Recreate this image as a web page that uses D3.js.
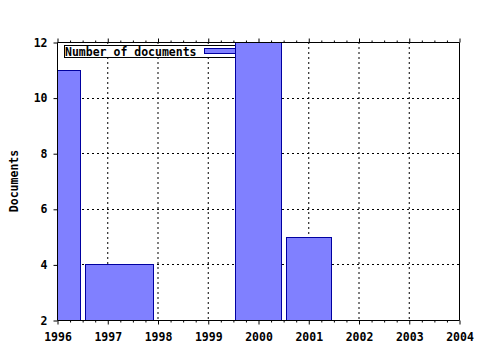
<!DOCTYPE html>
<html>
<head>
<meta charset="utf-8">
<script src="https://cdn.jsdelivr.net/npm/d3@7"></script>
<style>
  body { margin: 0; background: #fff; }
  text { font-family: "DejaVu Sans Mono", "Liberation Mono", monospace; font-weight: bold; }
</style>
</head>
<body>
<svg id="chart" width="480" height="350"></svg>
<script>
// data (bar edges in years)
const barStart = [1995.54, 1996.56, 1999.54, 2000.55];
const barEnd   = [1996.46, 1997.91, 2000.46, 2001.45];
const counts   = [11, 4, 12, 5];
const xTicks = [1996, 1997, 1998, 1999, 2000, 2001, 2002, 2003, 2004];
const yTicks = [2, 4, 6, 8, 10, 12];

const data = counts.map((c, i) => ({start: barStart[i], end: barEnd[i], value: c}));

const svg = d3.select("#chart");
const margin = {top: 42, right: 21, bottom: 30, left: 57};
const width = 480 - margin.left - margin.right;
const height = 350 - margin.top - margin.bottom;

const g = svg.append("g")
    .attr("transform", "translate(" + margin.left + "," + margin.top + ")");

const x = d3.scaleLinear().domain([1996, 2004]).range([0, width]);
const y = d3.scaleLinear().domain([2, 12]).range([height, 0]);

// dotted grid
g.append("g").selectAll("line")
    .data(xTicks.slice(1, -1))
    .enter().append("line")
    .attr("x1", d => x(d) + 0.5).attr("x2", d => x(d) + 0.5)
    .attr("y1", 0).attr("y2", height)
    .attr("stroke", "#000").attr("stroke-dasharray", "2,3");
g.append("g").selectAll("line")
    .data(yTicks.slice(1, -1))
    .enter().append("line")
    .attr("x1", 0).attr("x2", width)
    .attr("y1", d => Math.round(y(d)) + 0.5).attr("y2", d => Math.round(y(d)) + 0.5)
    .attr("stroke", "#000").attr("stroke-dasharray", "2,3");

// legend (sits under the bars)
const legend = g.append("g").attr("transform", "translate(7,3)");
legend.append("rect")
    .attr("x", 0.5).attr("y", 0.5).attr("width", 190).attr("height", 12)
    .attr("fill", "#fff").attr("stroke", "#000");
legend.append("text")
    .attr("x", 1).attr("y", 10.5)
    .attr("font-size", "11.5px")
    .text("Number of documents");
legend.append("rect")
    .attr("x", 140.5).attr("y", 3.5).attr("width", 40).attr("height", 5)
    .attr("fill", "#8080ff").attr("stroke", "#0000a0");

// bars, clipped to the plot area
svg.append("clipPath").attr("id", "clip")
    .append("rect").attr("width", width).attr("height", height);
g.append("g").attr("clip-path", "url(#clip)")
    .selectAll("rect")
    .data(data)
    .enter().append("rect")
    .attr("x", d => Math.round(x(d.start)) + 0.5)
    .attr("y", d => Math.round(y(d.value)) + 0.5)
    .attr("width", d => Math.round(x(d.end)) - Math.round(x(d.start)))
    .attr("height", d => height - Math.round(y(d.value)))
    .attr("fill", "#8080ff")
    .attr("stroke", "#0000a0");

// frame: left, top, bottom axes; right edge
const axisLines = [
    [0, 0, 0, height], [0, 0, width, 0], [0, height, width, height], [width, 0, width, height]
];
g.append("g").selectAll("line")
    .data(axisLines)
    .enter().append("line")
    .attr("x1", d => d[0] + 0.5).attr("y1", d => d[1] + 0.5)
    .attr("x2", d => d[2] + 0.5).attr("y2", d => d[3] + 0.5)
    .attr("stroke", "#000");

// x axes ticks (major + quarter-year minor), top and bottom
const bottomAxis = d3.axisBottom(x).tickValues(xTicks).tickFormat(d3.format("d")).tickSize(4).tickPadding(8);
const bx = g.append("g").attr("transform", "translate(0.5," + (height + 0.5) + ")").call(bottomAxis);
bx.select(".domain").remove();
bx.selectAll("text").attr("font-size", "11.5px").attr("font-family", null).attr("fill", "#000");

const minor = d3.range(1996, 2004.01, 0.25).filter(v => v % 1 !== 0);
const bMinor = d3.axisBottom(x).tickValues(minor).tickFormat("").tickSize(2);
g.append("g").attr("transform", "translate(0.5," + (height + 0.5) + ")").call(bMinor).select(".domain").remove();

const topAxis = d3.axisTop(x).tickValues(xTicks).tickFormat("").tickSize(4);
g.append("g").attr("transform", "translate(0.5,0.5)").call(topAxis).select(".domain").remove();
const tMinor = d3.axisTop(x).tickValues(minor).tickFormat("").tickSize(2);
g.append("g").attr("transform", "translate(0.5,0.5)").call(tMinor).select(".domain").remove();

// y axis
const leftAxis = d3.axisLeft(y).tickValues(yTicks).tickSize(4).tickPadding(6);
const ly = g.append("g").attr("transform", "translate(0.5,0.5)").call(leftAxis);
ly.select(".domain").remove();
ly.selectAll("text").attr("font-size", "11.5px").attr("font-family", null).attr("fill", "#000");

// y label
svg.append("text")
    .attr("transform", "translate(18,181) rotate(-90)")
    .attr("text-anchor", "middle")
    .attr("font-size", "11.5px")
    .text("Documents");
</script>
</body>
</html>
